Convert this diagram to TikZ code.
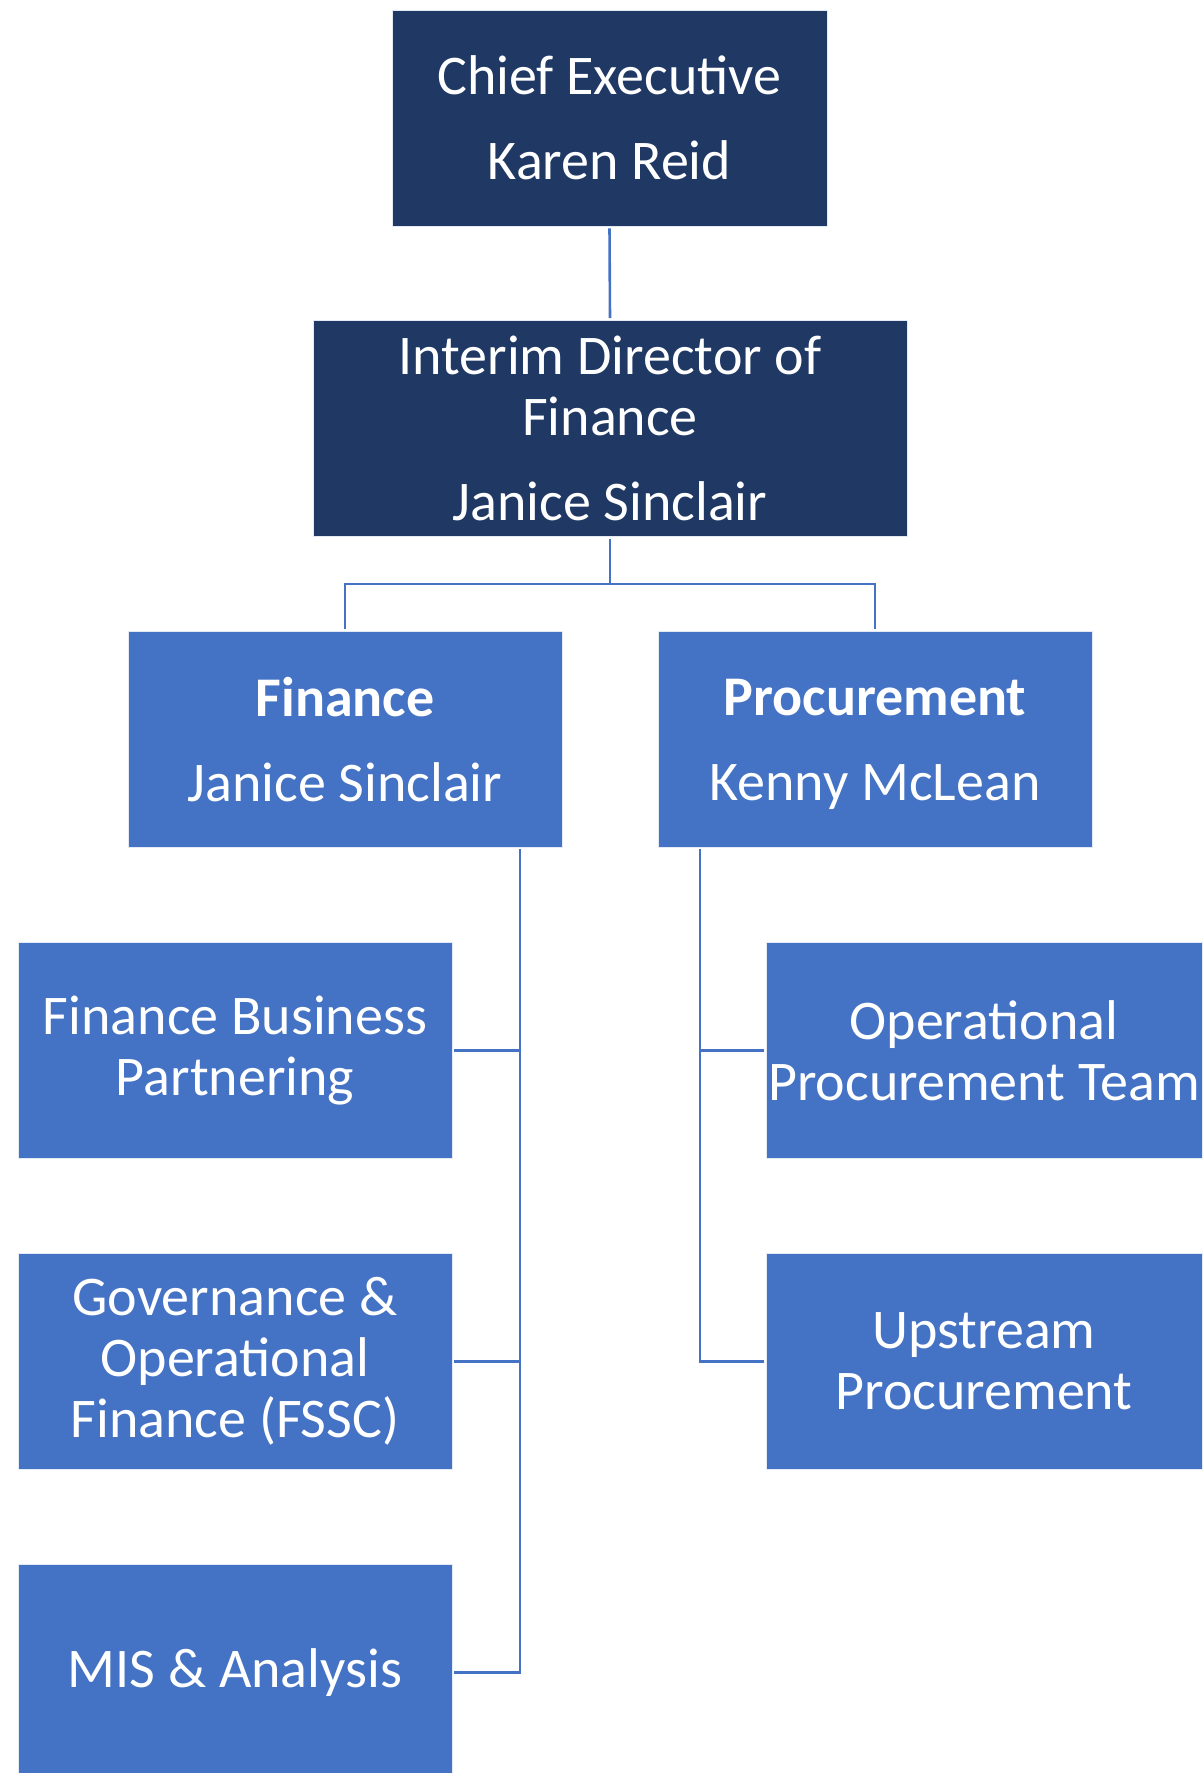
\documentclass[tikz,border=0pt]{standalone}
\usepackage{fontspec}
\setmainfont{Carlito}
\definecolor{navy}{HTML}{203864}
\definecolor{mid}{HTML}{4472C4}
\tikzset{
  box/.style={rectangle, draw=white!85!mid, line width=0.8pt, inner sep=0pt, minimum height=216pt, text=white, align=center, font=\fontsize{56}{61}\selectfont},
  topbox/.style={box, fill=navy},
  subbox/.style={box, fill=mid},
  link/.style={draw=mid, line width=2.6pt, shorten <=2pt, shorten >=2pt}
}
\begin{document}
\begin{tikzpicture}[x=1pt, y=-1pt]
\useasboundingbox (0,0) rectangle (1204,1773);
\clip (0,0) rectangle (1204,1773);
\node[topbox, minimum width=435pt] (ce) at (609.5,118) {Chief Executive\\[24pt]Karen Reid};
\node[topbox, minimum width=594pt] (int) at (610,428.5) {Interim Director of\\Finance\\[24pt]Janice Sinclair};
\node[subbox, minimum width=434pt] (fin) at (345,739.5) {\textbf{Finance}\\[24pt]Janice Sinclair};
\node[subbox, minimum width=434pt] (proc) at (875,739.5) {\textbf{Procurement}\\[24pt]\raisebox{0pt}[\height][0pt]{Kenny McLean}};
\node[subbox, minimum width=434pt] (fbp) at (235,1050.5) {Finance Business\\Partnering};
\node[subbox, minimum width=434pt] (gov) at (235,1361.5) {Governance \&\\Operational\\Finance (FSSC)};
\node[subbox, minimum width=434pt] (mis) at (235,1672.5) {MIS \& Analysis};
\node[subbox, minimum width=436pt] (opt) at (984,1050.5) {Operational\\Procurement Team};
\node[subbox, minimum width=436pt] (ups) at (984,1361.5) {Upstream\\Procurement};
\coordinate (bus) at (610,584);
\coordinate (fspine) at (520,849);
\coordinate (pspine) at (700,849);
\draw[link] (ce.south) -- (int.north);
\draw[link, shorten >=0pt] (int.south) -- (bus);
\draw[link, shorten <=0pt] (bus) -| (fin.north);
\draw[link, shorten <=0pt] (bus) -| (proc.north);
\draw[link, shorten <=0pt] (fspine) |- (mis.east);
\draw[link, shorten <=0pt] (fbp.east -| fspine) -- (fbp.east);
\draw[link, shorten <=0pt] (gov.east -| fspine) -- (gov.east);
\draw[link, shorten <=0pt] (pspine) |- (ups.west);
\draw[link, shorten <=0pt] (opt.west -| pspine) -- (opt.west);
\end{tikzpicture}
\end{document}
